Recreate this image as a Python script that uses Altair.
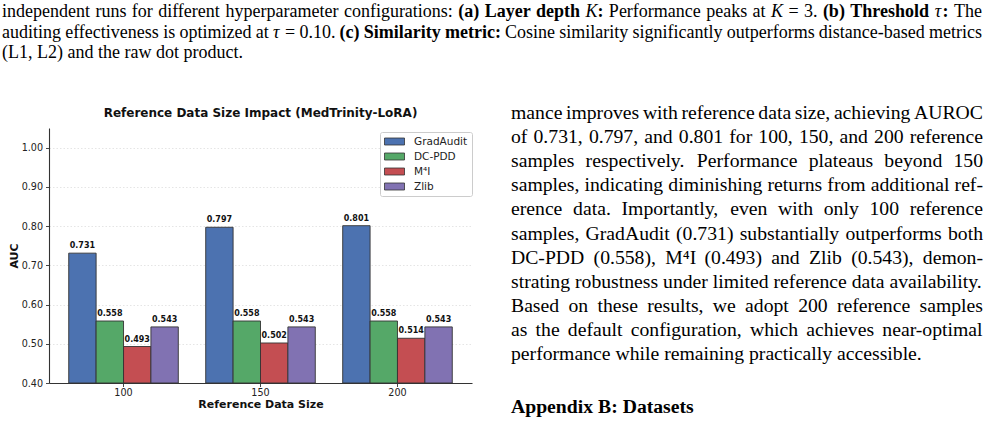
import re

import altair as alt
import pandas as pd

# ---------------------------------------------------------------- data
sizes = ["100", "150", "200"]
methods = ["GradAudit", "DC-PDD", "M⁴I", "Zlib"]
method_colors = ["#4C72B0", "#55A868", "#C44E52", "#8172B2"]

gradaudit_auc = [0.731, 0.797, 0.801]
dcpdd_auc = [0.558, 0.558, 0.558]
m4i_auc = [0.493, 0.502, 0.514]
zlib_auc = [0.543, 0.543, 0.543]

y_ticks = [0.40, 0.50, 0.60, 0.70, 0.80, 0.90, 1.00]

caption_lines = [
    "independent runs for different hyperparameter configurations: {b:(a)} {b:Layer} {b:depth} "
    "{i:K}{b::} Performance peaks at {i:K} = 3. {b:(b)} {b:Threshold} {i:τ}{b::} The",
    "auditing effectiveness is optimized at {i:τ} = 0.10. {b:(c)} {b:Similarity} {b:metric:} "
    "Cosine similarity significantly outperforms distance-based metrics",
    "(L1, L2) and the raw dot product.",
]

body_lines = [
    "mance improves with reference data size, achieving AUROC",
    "of 0.731, 0.797, and 0.801 for 100, 150, and 200 reference",
    "samples respectively. Performance plateaus beyond 150",
    "samples, indicating diminishing returns from additional ref-",
    "erence data. Importantly, even with only 100 reference",
    "samples, GradAudit (0.731) substantially outperforms both",
    "DC-PDD (0.558), M⁴I (0.493) and Zlib (0.543), demon-",
    "strating robustness under limited reference data availability.",
    "Based on these results, we adopt 200 reference samples",
    "as the default configuration, which achieves near-optimal",
    "performance while remaining practically accessible.",
]
heading = "{b:Appendix} {b:B:} {b:Datasets}"

chart_title = "Reference Data Size Impact (MedTrinity-LoRA)"

# ---------------------------------------------------------------- page geometry
PAGE_W, PAGE_H = 988, 423
LEFT, TOP = 49, 128          # plot origin on the page
PLOT_W, PLOT_H = 423, 255

# ---------------------------------------------------------------- serif text metrics (1/1000 em)
def _table(groups):
    t = {}
    for chars, w in groups:
        for ch in chars:
            t[ch] = w
    return t

REG = _table([
    (" ,.", 250), ("ijlt:;/", 278), ("fr()-I'", 333), ("sJ", 389), ("acez?", 444),
    ("bdghknopquvxy0123456789", 500), ("FPS", 556), ("=+<>", 564), ("ELTZ", 611),
    ("BCR", 667), ("ADGHKNOQUVXYw", 722), ("m&", 778), ("%", 833), ("M", 889),
    ("W", 944), ("⁴", 300), ("τ", 440),
])
BOLD = _table([
    (" ,.", 250), ("ijl", 278), ("ft():-I", 333), ("s", 389), ("cerz", 444),
    ("agvxy0123456789", 500), ("bdhknpquS", 556), ("FP", 611), ("BLT", 667),
    ("ACDGHKNORUVXY", 722), ("m", 833), ("M", 944), ("W", 1000),
])
ITAL = _table([("K", 667), ("τ", 440), (" ", 250)])
TABLES = {"r": REG, "b": BOLD, "i": ITAL}


def run_width(text, style, fs):
    table = TABLES[style]
    return sum(table.get(ch, REG.get(ch, 500)) for ch in text) / 1000.0 * fs


RUN_RE = re.compile(r"\{([bi]):(.*?)\}|([^{]+)")


def parse_word(word):
    runs = []
    for m in RUN_RE.finditer(word):
        if m.group(3) is not None:
            runs.append(("r", m.group(3)))
        else:
            runs.append((m.group(1), m.group(2)))
    return runs


def set_lines(lines, x0, x1, baselines, fs, justified):
    """Lay out lines of words between x0 and x1 (page pixels), spreading
    inter-word space on justified lines."""
    rows = []
    for line, yb, just in zip(lines, baselines, justified):
        words = [parse_word(w) for w in line.split(" ")]
        widths = [sum(run_width(t, s, fs) for s, t in w) for w in words]
        gap = 0.25 * fs
        if just and len(words) > 1:
            gap = (x1 - x0 - sum(widths)) / (len(words) - 1)
        x = x0
        for word, wdt in zip(words, widths):
            cx = x
            for style, t in word:
                rows.append({"x": cx - LEFT, "y": yb - TOP, "text": t,
                             "style": style, "fs": fs})
                cx += run_width(t, style, fs)
            x += wdt + gap
    return rows


text_rows = []
text_rows += set_lines(caption_lines, 2, 982, [17, 38, 58], 18.0, [True, True, False])
body_fs = 19.7
text_rows += set_lines(body_lines, 511, 983, [119 + 24.1 * i for i in range(len(body_lines))],
                       body_fs, [True] * (len(body_lines) - 1) + [False])
text_rows += set_lines([heading], 511, 983, [413], body_fs, [False])
text_df = pd.DataFrame(text_rows)

# ---------------------------------------------------------------- bar data
rows = []
for method, vals in zip(methods, [gradaudit_auc, dcpdd_auc, m4i_auc, zlib_auc]):
    for size, v in zip(sizes, vals):
        rows.append({"size": size, "method": method, "auc": v})
bars_df = pd.DataFrame(rows)

# ---------------------------------------------------------------- chart
SANS = "DejaVu Sans"
SERIF = "Liberation Serif"

x_enc = alt.X(
    "size:N", sort=sizes,
    scale=alt.Scale(paddingInner=0.2, paddingOuter=0.144),
    axis=alt.Axis(
        title="Reference Data Size", labelAngle=0, labelFont=SANS, labelFontSize=9.6,
        labelColor="#222222", labelPadding=1, tickSize=3.5, tickColor="#333333",
        tickWidth=0.9, domainColor="#333333", domainWidth=1.1, titleFont=SANS,
        titleFontSize=11, titleFontWeight="bold", titleColor="#111111", titlePadding=1,
        grid=False,
    ),
)
xoff_enc = alt.XOffset("method:N", sort=methods,
                       scale=alt.Scale(paddingInner=0, paddingOuter=0))
y_enc = alt.Y(
    "auc:Q",
    scale=alt.Scale(domain=[0.4, 1.05], nice=False, zero=False),
    axis=alt.Axis(
        title="AUC", values=y_ticks, format=".2f", labelFont=SANS, labelFontSize=9.6,
        labelColor="#222222", labelPadding=3, tickSize=3.5, tickColor="#333333",
        tickWidth=0.9, domainColor="#333333", domainWidth=1.1, titleFont=SANS,
        titleFontSize=11, titleFontWeight="bold", titleColor="#111111", titlePadding=2,
        grid=True, gridColor="#c8c8c8", gridOpacity=0.6, gridDash=[1.5, 2],
        gridWidth=0.8,
    ),
)
color_enc = alt.Color(
    "method:N", sort=methods,
    scale=alt.Scale(domain=methods, range=method_colors),
    legend=alt.Legend(
        title=None, orient="none", legendX=331, legendY=4, direction="vertical",
        symbolType="M-2,-0.7H2V0.7H-2Z", symbolSize=100, symbolOffset=5,
        symbolStrokeColor="#333333", symbolStrokeWidth=0.8, symbolOpacity=1,
        labelFont=SANS, labelFontSize=10.5, labelColor="#222222", labelOffset=14,
        padding=4, rowPadding=4, strokeColor="#cccccc", fillColor="white",
        cornerRadius=2,
    ),
)

base = alt.Chart(bars_df)
bars = base.mark_bar(stroke="#333333", strokeWidth=0.9).encode(
    x=x_enc, xOffset=xoff_enc, y=y_enc, y2=alt.datum(0.4), color=color_enc,
)
value_labels = base.mark_text(
    font=SANS, fontSize=8, fontWeight="bold", color="#111111",
    baseline="bottom", dy=-3,
).encode(
    x=alt.X("size:N", sort=sizes), xOffset=alt.XOffset("method:N", sort=methods),
    y="auc:Q", text=alt.Text("auc:Q", format=".3f"),
)
plot = alt.layer(bars, value_labels)

title_mark = alt.Chart(pd.DataFrame({"t": [chart_title]})).mark_text(
    font=SANS, fontSize=12, fontWeight="bold", color="#111111",
    align="center", baseline="middle",
).encode(x=alt.value(PLOT_W / 2), y=alt.value(113 - TOP), text="t:N")


def text_layer(style, weight, font_style):
    return alt.Chart(text_df).transform_filter(
        alt.datum.style == style
    ).mark_text(
        font=SERIF, fontWeight=weight, fontStyle=font_style, color="#000000",
        align="left", baseline="alphabetic",
    ).encode(
        x=alt.X("x:Q", scale=None, axis=None),
        y=alt.Y("y:Q", scale=None, axis=None),
        size=alt.Size("fs:Q", scale=None, legend=None),
        text="text:N",
    )


page_text = alt.layer(
    text_layer("r", "normal", "normal"),
    text_layer("b", "bold", "normal"),
    text_layer("i", "normal", "italic"),
)

chart = alt.layer(plot, title_mark, page_text).resolve_scale(
    x="independent", y="independent", size="independent",
).properties(
    width=PLOT_W,
    height=PLOT_H,
    autosize=alt.AutoSizeParams(type="none"),
    padding={"left": LEFT, "top": TOP, "right": PAGE_W - LEFT - PLOT_W,
             "bottom": PAGE_H - TOP - PLOT_H},
    background="white",
).configure_view(stroke=None)

chart.save("out.html", embed_options={"renderer": "svg", "actions": False})
